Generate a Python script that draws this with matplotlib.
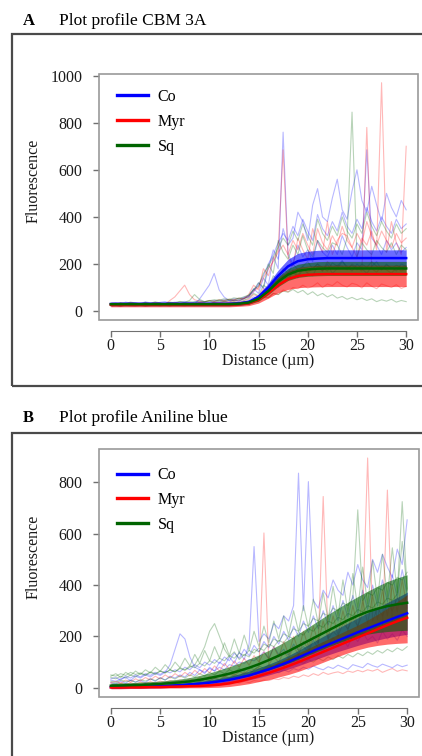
import numpy as np
import matplotlib
matplotlib.use("Agg")
import matplotlib.pyplot as plt
from matplotlib.patches import Rectangle

plt.rcParams['font.family'] = ['Liberation Serif', 'DejaVu Serif']

# distance grids
x_fit = np.arange(31)          # 0..30 um, fitted curves
x_raw = np.arange(61) * 0.5    # 0..30 um, raw profiles

groups = ["Co", "Myr", "Sq"]
colors = {"Co": "#0000ff", "Myr": "#ff0000", "Sq": "#006400"}

# ---- panel A : CBM 3A ----
co_a = [30]*13 + [32, 38, 60, 100, 150, 190, 212, 220, 223] + [225]*9
co_a_lo = [22]*13 + [24, 29, 48, 82, 126, 160, 179, 186, 189] + [190]*9
co_a_hi = [38]*13 + [40, 47, 72, 118, 174, 220, 245, 254, 258] + [260]*9
myr_a = [27]*13 + [29, 33, 48, 76, 110, 136, 149, 154, 156] + [157]*9
myr_a_lo = [18]*13 + [20, 23, 34, 55, 78, 92, 99, 102, 103] + [104]*9
myr_a_hi = [37]*13 + [39, 44, 62, 98, 142, 170, 185, 191, 194] + [195]*9
sq_a = [29]*13 + [31, 36, 52, 85, 125, 155, 171, 177, 180] + [181]*9
sq_a_lo = [23]*13 + [25, 29, 42, 70, 104, 130, 143, 148, 150] + [151]*9
sq_a_hi = [36]*13 + [38, 44, 62, 100, 146, 180, 199, 206, 210] + [211]*9

raw_a = {
    "Co": [
        "32 35 30 38 34 36 31 39 35 33 37 40 34 38 36 41 35 39 44 40 37 45 42 48 44 52 50 58 "
        "65 80 120 95 180 260 220 350 280 310 420 380 300 450 520 400 380 480 560 430 390 510 600 470 420 530 450 380 500 440 400 470 430",
        "28 31 27 33 30 29 34 31 28 32 30 35 33 29 31 36 34 30 50 80 110 160 90 60 45 45 40 55 "
        "60 95 75 140 110 230 180 760 240 200 280 230 260 210 300 250 230 280 240 320 270 230 290 260 685 310 280 240 300 260 290 250 270",
        "22 25 21 27 24 23 26 22 25 28 24 27 30 26 29 25 28 31 27 30 33 29 34 31 36 33 38 40 "
        "45 60 52 85 70 120 100 150 130 170 140 180 160 150 190 170 200 160 180 210 190 170 200 180 160 190 210 175 195 185 170 200 190",
        "26 29 25 31 28 27 30 26 29 32 28 31 27 34 30 28 33 29 36 32 30 38 35 41 38 46 44 52 "
        "62 88 110 150 200 240 290 330 300 360 320 390 340 300 410 350 320 380 340 420 360 330 390 350 440 380 340 400 360 330 390 350 370",
    ],
    "Myr": [
        "30 27 33 29 35 31 28 34 30 36 32 29 45 60 85 110 70 48 42 38 45 41 48 44 50 47 55 52 "
        "70 110 90 180 150 220 260 685 230 190 310 260 220 350 290 250 380 240 300 330 320 270 230 310 280 340 260 970 250 380 290 240 700",
        "25 28 24 30 27 26 29 25 28 31 27 30 26 33 29 27 32 28 35 31 29 36 33 38 35 40 37 44 "
        "50 70 62 95 85 130 115 160 140 175 150 190 165 180 200 170 210 185 195 190 175 200 185 170 780 180 165 190 175 160 185 170 180",
        "20 23 19 25 22 21 24 20 23 26 22 25 21 27 24 22 26 23 28 25 24 29 27 31 28 33 30 35 "
        "38 45 42 60 55 75 70 90 82 100 95 110 98 105 120 100 115 108 125 110 102 118 112 98 120 105 95 115 108 100 112 96 105",
        "27 30 26 32 29 28 31 27 30 33 29 32 28 35 31 29 34 30 37 33 31 39 36 42 39 47 45 53 "
        "60 85 100 140 180 210 250 280 240 300 260 330 280 240 350 290 260 320 280 360 300 270 330 290 380 320 280 340 300 270 330 290 310",
    ],
    "Sq": [
        "33 30 36 32 38 34 31 37 33 39 35 32 38 35 41 37 45 70 50 40 44 48 46 52 49 56 53 60 "
        "68 90 120 100 200 160 300 250 220 280 240 320 260 230 300 270 250 290 280 240 310 845 230 290 260 240 300 270 250 290 240 280 260",
        "28 31 27 33 29 32 28 34 30 27 33 29 36 32 30 35 31 38 34 37 40 36 42 39 45 42 48 46 "
        "55 75 65 110 95 150 130 180 160 200 175 190 210 180 200 185 170 205 190 215 180 195 175 200 185 210 190 175 200 180 195 185 190",
        "24 27 23 29 26 25 28 24 27 30 26 29 25 31 28 26 30 27 32 29 28 33 31 35 32 37 34 39 "
        "42 50 46 62 58 75 70 85 80 92 78 88 70 82 65 75 60 70 55 62 50 58 48 55 45 52 40 48 42 50 38 45 40",
        "31 28 34 30 36 32 29 35 31 37 33 30 36 33 39 35 40 37 42 39 45 41 47 44 50 47 55 52 "
        "66 92 105 160 190 230 270 310 280 340 300 370 320 280 390 330 300 360 320 400 340 310 370 330 420 360 320 380 340 310 370 330 350",
    ],
}

# ---- panel B : Aniline blue ----
co_b = [3, 3, 4, 4, 5, 6, 8, 10, 13, 16, 20, 25, 31, 39, 48, 60, 72, 86, 101, 118,
        135, 152, 168, 184, 200, 216, 231, 246, 261, 276, 290]
co_b_lo = [-3, -3, -2, -2, -1, 0, 1, 3, 5, 7, 10, 14, 18, 24, 31, 40, 50, 61, 73, 86,
           100, 114, 128, 141, 153, 165, 176, 186, 195, 202, 208]
co_b_hi = [9, 9, 10, 10, 11, 12, 15, 17, 21, 25, 30, 36, 44, 54, 65, 78, 92, 108, 126, 146,
           168, 190, 211, 232, 252, 272, 292, 312, 332, 352, 372]
myr_b = [1, 1, 2, 2, 3, 3, 4, 5, 6, 7, 9, 12, 17, 25, 35, 46, 58, 71, 85, 100,
         116, 132, 148, 164, 180, 196, 212, 228, 244, 259, 273]
myr_b_lo = [-4, -4, -3, -3, -2, -2, -1, -1, 0, 0, 1, 2, 5, 10, 16, 24, 32, 42, 52, 64,
            78, 92, 107, 122, 136, 148, 158, 165, 170, 173, 175]
myr_b_hi = [6, 6, 7, 7, 8, 8, 9, 11, 12, 14, 17, 22, 29, 40, 54, 68, 84, 100, 118, 136,
            154, 172, 190, 208, 226, 244, 264, 286, 310, 336, 362]
sq_b = [8, 9, 10, 11, 13, 15, 18, 21, 25, 31, 38, 46, 55, 66, 78, 92, 108, 125, 143, 163,
        183, 203, 223, 243, 263, 281, 296, 308, 318, 325, 331]
sq_b_lo = [0, 1, 2, 3, 4, 5, 7, 9, 12, 16, 20, 25, 31, 39, 48, 58, 69, 82, 96, 111,
           127, 143, 159, 174, 188, 200, 209, 215, 219, 222, 224]
sq_b_hi = [18, 19, 20, 22, 24, 26, 30, 34, 40, 48, 58, 70, 82, 96, 112, 128, 146, 166, 188, 211,
           236, 261, 286, 310, 333, 355, 376, 396, 414, 428, 440]

raw_b = {
    "Co": [
        "30 25 35 40 28 45 38 50 42 55 48 60 90 150 210 190 120 80 70 60 75 65 80 70 90 85 100 95 110 105 "
        "120 140 115 160 130 150 125 170 145 160 140 185 155 175 165 195 170 190 160 205 180 215 185 200 175 220 190 210 185 225 200",
        "20 15 25 18 30 22 28 20 35 25 40 30 45 38 50 42 60 48 70 55 80 65 100 85 120 95 140 110 170 550 "
        "180 210 190 250 230 280 260 320 836 300 803 340 310 380 350 420 380 360 450 400 480 420 390 500 450 520 470 430 540 480 654",
        "10 12 8 15 11 14 9 16 12 18 14 20 16 22 18 25 20 28 24 32 28 36 30 40 35 45 38 50 42 55 "
        "48 60 55 65 58 70 62 75 68 80 72 85 76 70 82 75 88 80 72 90 84 78 95 86 80 92 85 78 90 82 88",
        "35 40 30 45 38 50 42 55 48 60 52 65 58 70 62 80 70 90 78 100 88 110 95 120 105 135 115 150 125 165 "
        "140 180 155 200 170 220 185 240 200 260 215 280 230 300 245 320 260 340 275 360 290 380 305 400 320 420 335 440 350 460 365",
    ],
    "Myr": [
        "5 8 4 10 7 12 9 14 11 16 13 18 15 20 17 24 20 28 24 32 28 38 32 45 38 52 45 60 52 70 "
        "80 603 90 120 100 140 115 160 130 180 150 200 170 745 190 220 200 250 230 270 240 290 895 260 310 280 330 300 350 320 360",
        "15 10 18 12 20 14 22 16 24 18 26 20 28 22 30 25 35 28 40 32 45 38 50 42 55 48 62 55 70 60 "
        "75 68 85 78 95 88 110 100 125 115 140 130 155 145 170 160 185 175 200 190 215 205 230 220 245 235 770 250 270 260 280",
        "2 4 1 5 3 6 2 7 4 8 5 9 6 10 7 12 9 14 10 16 12 18 14 20 16 22 18 25 20 28 "
        "25 30 28 35 32 40 36 45 40 50 44 55 48 60 52 58 62 55 65 60 68 62 70 65 72 60 68 75 64 70 66",
        "20 25 18 30 22 35 26 40 30 45 34 50 38 55 42 60 46 68 52 75 58 85 65 95 72 105 80 115 88 125 "
        "100 140 110 160 120 180 130 200 145 220 160 240 175 260 190 280 205 300 220 320 235 340 250 360 265 380 280 400 295 420 310",
    ],
    "Sq": [
        "50 45 55 48 60 52 58 50 62 55 65 58 70 62 75 68 80 90 120 160 220 250 200 150 120 140 110 130 120 150 "
        "140 170 160 190 180 210 200 230 220 250 240 270 260 290 280 310 300 330 320 350 693 340 370 360 390 380 410 400 430 420 450",
        "40 35 45 38 50 42 55 48 60 52 65 58 70 62 78 70 85 78 95 85 105 95 115 105 125 115 135 125 145 135 "
        "155 145 170 160 185 175 200 190 215 205 230 220 245 235 260 250 275 265 290 280 305 295 320 310 335 325 350 340 365 725 380",
        "25 20 30 24 28 22 32 26 35 28 38 30 42 34 46 38 50 42 55 46 60 50 65 55 70 60 75 65 80 70 "
        "85 75 90 80 95 85 100 90 105 95 110 100 115 105 120 110 125 115 130 120 135 125 140 130 145 135 150 140 155 145 160",
        "45 55 40 60 48 65 52 70 58 80 64 90 70 100 78 115 85 130 95 145 105 160 115 175 125 190 135 205 145 220 "
        "160 240 175 260 190 280 205 300 220 320 235 345 250 370 265 395 280 420 295 445 310 470 325 495 340 520 355 545 370 570 385",
    ],
}

fits_a = {"Co": (co_a, co_a_lo, co_a_hi), "Myr": (myr_a, myr_a_lo, myr_a_hi), "Sq": (sq_a, sq_a_lo, sq_a_hi)}
fits_b = {"Co": (co_b, co_b_lo, co_b_hi), "Myr": (myr_b, myr_b_lo, myr_b_hi), "Sq": (sq_b, sq_b_lo, sq_b_hi)}

W, H = 422, 756
fig = plt.figure(figsize=(W/100, H/100), dpi=100)


def panel(rect, raw, fits, ylim, yticks, legend_y):
    ax = fig.add_axes(rect)
    for g in groups:
        for s in raw[g]:
            ax.plot(x_raw, np.array(s.split(), float), color=colors[g], lw=0.8, alpha=0.28, zorder=1)
    for g in ["Co", "Myr", "Sq"]:
        m, lo, hi = fits[g]
        ax.fill_between(x_fit, lo, hi, color=colors[g], alpha=0.58, lw=0, zorder=2)
    for g in groups:
        m, lo, hi = fits[g]
        ax.plot(x_fit, m, color=colors[g], lw=1.8, zorder=3, label=g)
    ax.set_xlim(-1.2, 31.2)
    ax.set_ylim(*ylim)
    ax.set_xticks([0, 5, 10, 15, 20, 25, 30])
    ax.set_yticks(yticks)
    for sp in ["top", "right", "left"]:
        ax.spines[sp].set_visible(False)
    ax.spines["bottom"].set_position(("outward", 8))
    ax.spines["bottom"].set_bounds(0, 30)
    ax.spines["bottom"].set_color("#707070")
    ax.add_patch(Rectangle((0, 0), 1, 1, transform=ax.transAxes, fill=False,
                           ec="#9a9a9a", lw=1.2, clip_on=False, zorder=5))
    ax.tick_params(axis="both", direction="out", length=4, width=1, color="#707070",
                   labelsize=11.5, labelcolor="#1a1a1a")
    ax.tick_params(axis="y", pad=8)
    ax.tick_params(axis="x", pad=1)
    ax.text(0.53, -0.167, "Distance (\u00b5m)", transform=ax.transAxes, ha="center",
            va="center", fontsize=11.5, color="#1a1a1a")
    leg = ax.legend(loc="upper left", bbox_to_anchor=(0.056, legend_y), frameon=False,
                    fontsize=11.5, handlelength=1.95, handletextpad=0.6,
                    labelspacing=0.55, borderpad=0, borderaxespad=0)
    for h in leg.get_lines():
        h.set_linewidth(2.4)
    return ax


axA = panel([99/W, 1-320/H, 319/W, 246/H], raw_a, fits_a, (-38, 1007),
            [0, 200, 400, 600, 800, 1000], 0.939)
axB = panel([99/W, 1-697/H, 320/W, 248/H], raw_b, fits_b, (-36, 930),
            [0, 200, 400, 600, 800], 0.927)

fig.text(33.5/W, 1-181/H, "Fluorescence", rotation=90, ha="center", va="center",
         fontsize=11.5, color="#1a1a1a")
fig.text(33.5/W, 1-557/H, "Fluorescence", rotation=90, ha="center", va="center",
         fontsize=11.5, color="#1a1a1a")

# panel frames and headings
fig.add_artist(Rectangle((12/W, 1-386/H), 420/W, 352/H, transform=fig.transFigure,
                         fill=False, ec="#4a4a4a", lw=1.6))
fig.add_artist(Rectangle((12/W, -0.02), 420/W, (756-433)/H + 0.02, transform=fig.transFigure,
                         fill=False, ec="#4a4a4a", lw=1.6))
fig.text(23/W, 1-21/H, "A", fontsize=12, fontweight="bold", ha="left", va="center")
fig.text(59/W, 1-21/H, "Plot profile CBM 3A", fontsize=12.5, ha="left", va="center")
fig.text(23/W, 1-418/H, "B", fontsize=12, fontweight="bold", ha="left", va="center")
fig.text(59/W, 1-418/H, "Plot profile Aniline blue", fontsize=12.5, ha="left", va="center")

fig.savefig("out.png", dpi=100)
